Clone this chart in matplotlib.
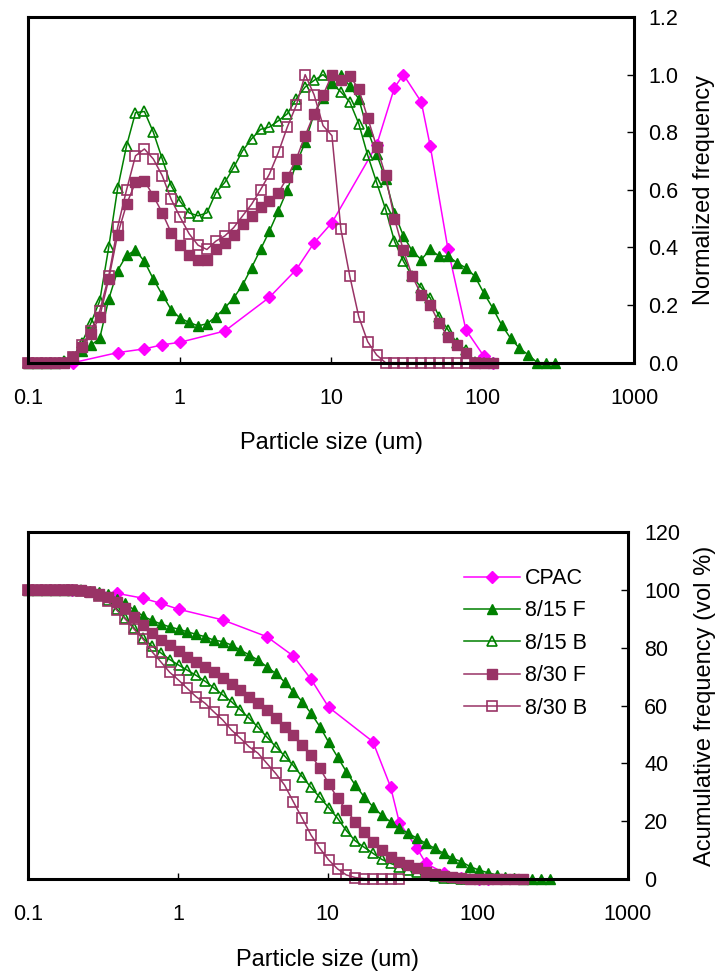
import numpy as np
import matplotlib
matplotlib.use("Agg")
import matplotlib.pyplot as plt
from matplotlib.ticker import NullLocator

plt.rcParams['font.family'] = ['Liberation Sans', 'DejaVu Sans']
plt.rcParams['font.size'] = 15.5

nan = np.nan

# size classes of the analyser (um)
sizes = [0.1005, 0.1151, 0.1318, 0.151, 0.1729, 0.1981, 0.2269, 0.2599, 0.2976, 0.3409,
         0.3905, 0.4472, 0.5122, 0.5867, 0.672, 0.7696, 0.8815, 1.0097, 1.1565, 1.3246,
         1.5172, 1.7377, 1.9904, 2.2797, 2.6111, 2.9907, 3.4255, 3.9234, 4.4938, 5.1471,
         5.8953, 6.7523, 7.7339, 8.8583, 10.146, 11.621, 13.31, 15.245, 17.462, 20.0,
         22.908, 26.238, 30.052, 34.421, 39.424, 45.156, 51.72, 59.239, 67.85, 77.714,
         89.012, 101.95, 116.77, 133.75, 153.19, 175.46, 200.97, 230.18, 263.65, 301.97]

# CPAC was measured on fewer classes
cpac_sizes = [0.1981, 0.3905, 0.5867, 0.7696, 1.0097, 1.9904, 3.9234, 5.8953, 7.7339, 10.146,
              20.0, 26.238, 30.052, 39.424, 45.156, 59.239, 77.714, 101.95, 116.77]

labels = ['CPAC', '8/15 F', '8/15 B', '8/30 F', '8/30 B']

# --- normalized frequency (top) ---
cpac_freq = [0.0, 0.035, 0.048, 0.062, 0.071, 0.11, 0.227, 0.323, 0.416, 0.486,
             0.755, 0.955, 1.0, 0.905, 0.753, 0.393, 0.114, 0.023, 0.0]

f815_freq = [0, 0, 0, 0, 0.005, 0.02, 0.04, 0.06, 0.085, 0.22,
             0.32, 0.373, 0.39, 0.352, 0.29, 0.236, 0.184, 0.155, 0.14, 0.128,
             0.135, 0.16, 0.19, 0.225, 0.27, 0.33, 0.393, 0.457, 0.527, 0.60,
             0.69, 0.765, 0.864, 0.92, 0.97, 1.0, 0.96, 0.916, 0.806, 0.724,
             0.637, 0.52, 0.44, 0.387, 0.358, 0.393, 0.37, 0.37, 0.347, 0.329,
             0.30, 0.242, 0.19, 0.131, 0.085, 0.05, 0.027, 0, 0, 0]

b815_freq = [0, 0, 0, 0, 0.005, 0.02, 0.07, 0.137, 0.215, 0.40,
             0.605, 0.753, 0.868, 0.872, 0.80, 0.707, 0.614, 0.56, 0.52, 0.51,
             0.52, 0.59, 0.626, 0.678, 0.736, 0.777, 0.81, 0.818, 0.84, 0.864,
             0.916, 0.957, 0.98, 1.0, 0.97, 0.94, 0.905, 0.83, 0.72, 0.626,
             0.533, 0.422, 0.352, 0.30, 0.26, 0.225, 0.16, 0.114, 0.068, 0.044,
             0.003, 0, 0, nan, nan, nan, nan, nan, nan, nan]

f830_freq = [0, 0, 0, 0, 0, 0.02, 0.056, 0.10, 0.16, 0.29,
             0.445, 0.55, 0.626, 0.631, 0.579, 0.52, 0.451, 0.41, 0.373, 0.355,
             0.358, 0.393, 0.416, 0.445, 0.48, 0.51, 0.539, 0.56, 0.59, 0.643,
             0.707, 0.788, 0.864, 0.928, 1.0, 0.98, 0.995, 0.95, 0.85, 0.75,
             0.65, 0.50, 0.39, 0.30, 0.236, 0.20, 0.137, 0.09, 0.06, 0.033,
             0.0, 0, 0, nan, nan, nan, nan, nan, nan, nan]

b830_freq = [0, 0, 0, 0, 0, 0.02, 0.06, 0.11, 0.18, 0.30,
             0.47, 0.60, 0.718, 0.742, 0.707, 0.649, 0.567, 0.505, 0.448, 0.408,
             0.393, 0.422, 0.44, 0.469, 0.51, 0.55, 0.60, 0.655, 0.73, 0.818,
             0.893, 1.0, 0.93, 0.823, 0.788, 0.463, 0.30, 0.16, 0.073, 0.027,
             0, 0, 0, 0, 0, 0, 0, 0, 0, 0,
             0, nan, nan, nan, nan, nan, nan, nan, nan, nan]

# --- cumulative frequency, vol % (bottom) ---
cpac_cum = [100, 98.8, 97.1, 95.3, 93.3, 89.6, 83.8, 77.1, 69.1, 59.4,
            47.5, 31.9, 19.5, 10.6, 5.4, 2.2, 0.5, 0.0, 0.0]

f815_cum = [100, 100, 100, 100, 100, 100, 99.9, 99.7, 99.3, 98.5,
            97.0, 95.3, 93.0, 90.9, 89.4, 88.2, 87.2, 86.4, 85.5, 84.6,
            83.8, 82.6, 82.1, 80.9, 79.2, 77.5, 75.7, 73.4, 71.1, 68.2,
            64.8, 61.3, 57.3, 52.7, 47.3, 42.2, 37.1, 32.5, 28.5, 25.0,
            22.1, 19.8, 17.5, 15.8, 14.1, 12.3, 10.6, 8.9, 7.2, 6.0,
            4.3, 3.1, 2.2, 1.4, 0.8, 0.3, 0.05, 0, 0, 0]

b815_cum = [100, 100, 100, 100, 100, 99.9, 99.8, 99.3, 98.3, 96.5,
            93.5, 90.1, 86.7, 83.2, 80.6, 78.2, 75.9, 74.0, 72.2, 70.4,
            68.4, 66.1, 63.7, 61.3, 58.5, 55.6, 52.5, 49.1, 45.8, 42.6,
            39.2, 35.4, 31.7, 28.2, 24.7, 21.0, 16.7, 13.2, 11.0, 8.9,
            6.8, 5.4, 4.3, 3.2, 2.3, 1.5, 0.9, 0.5, 0.2, 0.05,
            0, 0, 0, nan, nan, nan, nan, nan, nan, nan]

f830_cum = [100, 100, 100, 100, 100, 99.9, 99.8, 99.4, 98.7, 97.6,
            95.9, 93.6, 90.7, 87.8, 85.0, 82.6, 80.9, 78.9, 76.9, 75.1,
            73.4, 71.7, 69.4, 67.6, 65.4, 63.0, 60.8, 58.4, 55.6, 52.7,
            49.8, 46.3, 42.9, 38.3, 33.0, 27.9, 23.9, 19.8, 16.4, 12.9,
            10.0, 7.7, 6.0, 4.8, 3.7, 2.5, 1.9, 1.2, 0.7, 0.3,
            0.1, 0, 0, 0, 0, 0, 0, nan, nan, nan]

b830_cum = [100, 100, 100, 100, 100, 99.9, 99.7, 99.2, 98.0, 96.0,
            93.0, 89.8, 86.3, 82.9, 78.6, 75.1, 71.5, 68.8, 65.9, 63.0,
            60.8, 57.8, 55.0, 51.5, 48.7, 45.7, 43.5, 40.0, 36.5, 32.5,
            26.7, 21.0, 15.2, 10.6, 6.6, 3.5, 1.4, 0.5, 0.15, 0,
            0, 0, 0, nan, nan, nan, nan, nan, nan, nan,
            nan, nan, nan, nan, nan, nan, nan, nan, nan, nan]

MAGENTA = '#FF00FF'
GREEN = '#008000'
PLUM = '#993366'

styles = [
    dict(color=MAGENTA, marker='D', ms=6.3, mfc=MAGENTA, mec=MAGENTA, lw=1.1),
    dict(color=GREEN, marker='^', ms=7.5, mfc=GREEN, mec=GREEN, lw=1.1),
    dict(color=GREEN, marker='^', ms=7.5, mfc='none', mec=GREEN, mew=1.2, lw=1.1),
    dict(color=PLUM, marker='s', ms=7, mfc=PLUM, mec=PLUM, lw=1.1),
    dict(color=PLUM, marker='s', ms=6.5, mfc='none', mec=PLUM, mew=1.2, lw=1.1),
]


def style_axes(ax, ymax, ystep, fmt, ylabel, ypad, ylabelpad):
    ax.set_xscale('log')
    ax.set_xlim(0.1, 1000)
    ax.set_ylim(0, ymax)
    ax.set_xticks([0.1, 1, 10, 100, 1000])
    ax.set_xticklabels(['0.1', '1', '10', '100', '1000'])
    ax.xaxis.set_minor_locator(NullLocator())
    yt = np.arange(0, ymax + ystep / 2, ystep)
    ax.set_yticks(yt)
    ax.set_yticklabels([fmt.format(v) for v in yt])
    ax.yaxis.tick_right()
    ax.yaxis.set_label_position('right')
    ax.tick_params(axis='x', direction='in', length=4, width=1, pad=18)
    ax.tick_params(axis='y', direction='in', length=5, width=1, pad=ypad)
    for s in ax.spines.values():
        s.set_linewidth(2.2)
    ax.set_xlabel('Particle size (um)', fontsize=17, labelpad=17)
    ax.set_ylabel(ylabel, fontsize=17, labelpad=ylabelpad)


fig = plt.figure(figsize=(7.17, 9.72), dpi=100)
ax1 = fig.add_axes([28 / 717, 1 - 362.7 / 972, (634 - 28) / 717, (362.7 - 17) / 972])
ax2 = fig.add_axes([28 / 717, 1 - 879 / 972, (627.5 - 28) / 717, (879 - 532) / 972])

top_series = [(cpac_sizes, cpac_freq), (sizes, f815_freq), (sizes, b815_freq),
              (sizes, f830_freq), (sizes, b830_freq)]
bot_series = [(cpac_sizes, cpac_cum), (sizes, f815_cum), (sizes, b815_cum),
              (sizes, f830_cum), (sizes, b830_cum)]

for (x, y), st, lab in zip(top_series, styles, labels):
    ax1.plot(x, y, label=lab, clip_on=False, **st)
for (x, y), st, lab in zip(bot_series, styles, labels):
    ax2.plot(x, y, label=lab, clip_on=False, **st)

style_axes(ax1, 1.2, 0.2, '{:.1f}', 'Normalized frequency', 10, 11)
style_axes(ax2, 120, 20, '{:.0f}', 'Acumulative frequency (vol %)', 12, 10)

ax2.legend(loc='upper left', bbox_to_anchor=(0.727, 0.896), frameon=False,
           handlelength=2.6, handletextpad=0.23, labelspacing=0.53,
           borderpad=0, borderaxespad=0, numpoints=1)

fig.savefig('out.png', dpi=100, facecolor='white')
